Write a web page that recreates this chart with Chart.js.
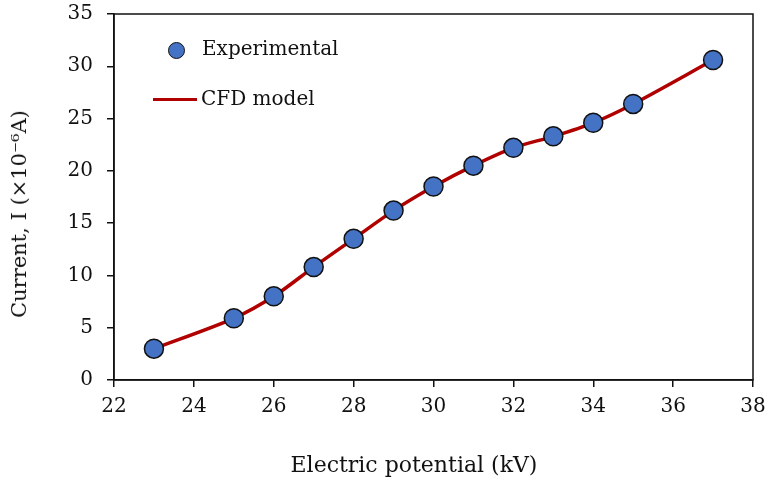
<!DOCTYPE html>
<html>
<head>
<meta charset="utf-8">
<script src="https://cdn.jsdelivr.net/npm/chart.js@4"></script>
<style>
  html, body { margin: 0; padding: 0; background: #fff; }
  #wrap { position: relative; width: 769px; height: 481px; font-family: "DejaVu Serif", serif; color: #111; }
  #legend { position: absolute; left: 150px; top: 38px; font-size: 20px; }
  .row { position: absolute; white-space: nowrap; }
  .dot { position: absolute; width: 15px; height: 15px; border-radius: 50%; background: #4472C4; border: 1.5px solid #111; }
  .bar { position: absolute; width: 44px; height: 3px; background: #B00000; }
  .axt { position: absolute; font-size: 21px; white-space: nowrap; transform: translate(-50%, -50%); }
  #xtitle { font-size: 22px; }
  #ytitle { transform: translate(-50%, -50%) rotate(-90deg); }
</style>
</head>
<body>
<div id="wrap">
  <canvas id="c" width="769" height="481"></canvas>
  <div id="legend">
    <div class="row" style="left:0;top:0"><span class="dot" style="left:18px;top:4px"></span><span style="position:absolute;left:52px;top:-2px">Experimental</span></div>
    <div class="row" style="left:0;top:50px"><span class="bar" style="left:3px;top:10px"></span><span style="position:absolute;left:51px;top:-2px">CFD model</span></div>
  </div>
  <div class="axt" id="xtitle" style="left:414px;top:464px">Electric potential (kV)</div>
  <div class="axt" id="ytitle" style="left:19px;top:214px">Current, I (×10⁻⁶A)</div>
</div>
<script>
// Current vs electric potential: measured points and CFD curve
var voltage = [23, 25, 26, 27, 28, 29, 30, 31, 32, 33, 34, 35, 37];
var experimental = [3.0, 5.9, 8.0, 10.8, 13.5, 16.2, 18.5, 20.5, 22.2, 23.3, 24.6, 26.4, 30.6];
var cfdModel = [3.0, 5.9, 8.0, 10.8, 13.5, 16.2, 18.5, 20.5, 22.2, 23.3, 24.6, 26.4, 30.6];

var FONT = "'DejaVu Serif', serif";

function pairs(xs, ys) {
  return xs.map(function (x, i) { return { x: x, y: ys[i] }; });
}

// box around the plot area (top and right edges too)
var frame = {
  id: "frame",
  afterDraw: function (chart) {
    var a = chart.chartArea, ctx = chart.ctx;
    ctx.save();
    ctx.strokeStyle = "#111";
    ctx.lineWidth = 1.5;
    ctx.strokeRect(a.left, a.top, a.right - a.left, a.bottom - a.top);
    ctx.restore();
  }
};

new Chart(document.getElementById("c").getContext("2d"), {
  type: "scatter",
  data: {
    datasets: [
      {
        label: "Experimental",
        data: pairs(voltage, experimental),
        backgroundColor: "#4472C4",
        borderColor: "#111",
        borderWidth: 1.5,
        pointRadius: 9.5,
        order: 0
      },
      {
        label: "CFD model",
        data: pairs(voltage, cfdModel),
        showLine: true,
        borderColor: "#B00000",
        borderWidth: 3.5,
        pointRadius: 0,
        tension: 0.3,
        order: 1
      }
    ]
  },
  options: {
    responsive: false,
    animation: false,
    layout: { padding: 0 },
    plugins: { legend: { display: false }, tooltip: { enabled: false } },
    scales: {
      x: {
        type: "linear", min: 22, max: 38,
        border: { color: "#111", width: 1.5 },
        grid: { drawOnChartArea: false, color: "#111", tickLength: 7, lineWidth: 1.5 },
        ticks: { stepSize: 2, color: "#111", font: { family: FONT, size: 20 }, padding: 8 },
        afterFit: function (s) { s.height = 101; s.paddingLeft = 0; s.paddingRight = 16; }
      },
      y: {
        min: 0, max: 35,
        border: { color: "#111", width: 1.5 },
        grid: { drawOnChartArea: false, color: "#111", tickLength: 7, lineWidth: 1.5 },
        ticks: { stepSize: 5, color: "#111", font: { family: FONT, size: 20 }, padding: 14 },
        afterFit: function (s) { s.width = 114; s.paddingTop = 14; s.paddingBottom = 0; }
      }
    }
  },
  plugins: [frame]
});
</script>
</body>
</html>
